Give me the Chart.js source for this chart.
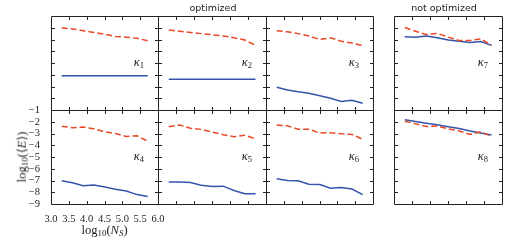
<!DOCTYPE html>
<html>
<head>
<meta charset="utf-8">
<script src="https://cdn.jsdelivr.net/npm/chart.js@4.4.1/dist/chart.umd.min.js"></script>
<style>
  html, body { margin: 0; padding: 0; background: #fff; }
  #fig { position: relative; width: 512px; height: 241px; overflow: hidden; font-family: "Liberation Serif", "DejaVu Serif", serif; color: #222; }
  #fig canvas { position: absolute; }
  .txt { position: absolute; white-space: nowrap; line-height: 1; }
  .head { font-family: "DejaVu Sans", sans-serif; font-size: 9.5px; transform: translateX(-50%); }
  .kap { font-size: 12.5px; font-style: italic; }
  .sb { position: relative; top: 2px; font-size: 8.5px; font-style: normal; }
  .ax { font-size: 12.5px; }
  .ax i { font-style: italic; }
</style>
</head>
<body>
<div id="fig"></div>
<script>
// x: log10(N_S)
const logNs = [3.30, 3.60, 3.90, 4.20, 4.51, 4.81, 5.11, 5.41, 5.71];

// log10(<E>), dashed (red) and solid (blue) curve for each kappa
const kappa1Dashed = [-2.0, -2.1, -2.25, -2.4, -2.55, -2.75, -2.8, -2.9, -3.1];
const kappa1Solid  = [-6.08, -6.08, -6.08, -6.08, -6.08, -6.08, -6.08, -6.08, -6.08];
const kappa2Dashed = [-2.2, -2.3, -2.4, -2.5, -2.6, -2.7, -2.85, -3.05, -3.5];
const kappa2Solid  = [-6.38, -6.38, -6.38, -6.38, -6.38, -6.38, -6.38, -6.38, -6.38];
const kappa3Dashed = [-2.25, -2.35, -2.5, -2.7, -3.0, -2.85, -3.15, -3.3, -3.52];
const kappa3Solid  = [-7.07, -7.3, -7.45, -7.57, -7.78, -8.0, -8.28, -8.18, -8.43];
const kappa4Dashed = [-2.38, -2.5, -2.45, -2.6, -2.85, -3.0, -3.25, -3.2, -3.65];
const kappa4Solid  = [-7.02, -7.2, -7.45, -7.38, -7.55, -7.75, -7.9, -8.2, -8.37];
const kappa5Dashed = [-2.42, -2.27, -2.55, -2.65, -2.88, -3.1, -3.28, -3.15, -3.45];
const kappa5Solid  = [-7.12, -7.12, -7.18, -7.4, -7.52, -7.48, -7.85, -8.12, -8.13];
const kappa6Dashed = [-2.27, -2.35, -2.63, -2.63, -2.97, -2.93, -3.02, -3.08, -3.5];
const kappa6Solid  = [-6.86, -7.0, -7.02, -7.32, -7.34, -7.65, -7.6, -7.73, -8.2];
const kappa7Dashed = [-1.98, -2.3, -2.58, -2.48, -2.8, -3.08, -3.08, -2.95, -3.5];
const kappa7Solid  = [-2.76, -2.8, -2.7, -2.85, -3.05, -3.15, -3.25, -3.18, -3.5];
const kappa8Dashed = [-1.95, -2.18, -2.4, -2.37, -2.6, -2.78, -3.08, -2.85, -3.25];
const kappa8Solid  = [-1.82, -1.97, -2.12, -2.25, -2.42, -2.58, -2.78, -2.95, -3.12];

const xTicks = [3.0, 3.5, 4.0, 4.5, 5.0, 5.5, 6.0];
const yTicks = [-9, -8, -7, -6, -5, -4, -3, -2, -1];

const panelNames = ['1', '2', '3', '7', '4', '5', '6', '8'];
const panelDashed = [kappa1Dashed, kappa2Dashed, kappa3Dashed, kappa7Dashed, kappa4Dashed, kappa5Dashed, kappa6Dashed, kappa8Dashed];
const panelSolid = [kappa1Solid, kappa2Solid, kappa3Solid, kappa7Solid, kappa4Solid, kappa5Solid, kappa6Solid, kappa8Solid];

// panel boxes in page pixels
const colX = [[51, 158], [158, 266], [266, 373], [394, 502]];
const rowY = [[16, 110], [110, 204]];

const RED = '#ea4826';
const BLUE = '#3653aa';

const fig = document.getElementById('fig');

const framePlugin = {
  id: 'frame',
  afterDatasetsDraw(chart) {
    const { ctx, chartArea: a, scales: { x, y } } = chart;
    const p = v => Math.round(v) + 0.5;
    const L = p(a.left), R = p(a.right), T = p(a.top), B = p(a.bottom);
    ctx.save();
    ctx.strokeStyle = '#222';
    ctx.lineWidth = 1;
    ctx.beginPath();
    ctx.rect(L, T, R - L, B - T);
    x.ticks.forEach(t => {
      if (t.value <= x.min || t.value >= x.max) return;
      const xx = p(x.getPixelForValue(t.value));
      ctx.moveTo(xx, T); ctx.lineTo(xx, T + 3.5);
      ctx.moveTo(xx, B); ctx.lineTo(xx, B - 3.5);
    });
    y.ticks.forEach(t => {
      if (t.value <= y.min || t.value >= y.max) return;
      const yy = p(y.getPixelForValue(t.value));
      ctx.moveTo(L, yy); ctx.lineTo(L + 3.5, yy);
      ctx.moveTo(R, yy); ctx.lineTo(R - 3.5, yy);
    });
    ctx.stroke();
    ctx.restore();
  }
};

function addText(html, cls, style) {
  const d = document.createElement('div');
  d.className = 'txt ' + cls;
  d.innerHTML = html;
  Object.assign(d.style, style);
  fig.appendChild(d);
}

panelNames.forEach((name, i) => {
  const col = i % 4, row = Math.floor(i / 4);
  const [l, r] = colX[col];
  const [t, b] = rowY[row];
  const w = r - l, h = b - t;
  const labelled = (col === 0 && row === 1);

  const canvas = document.createElement('canvas');
  let pad, cw, ch, cl, ct;
  if (labelled) {
    cl = 0; ct = t - 6; cw = r + 10; ch = 241 - ct;
    pad = { left: 0, top: 6, right: 10, bottom: 0 };
  } else {
    cl = l - 3; ct = t - 3; cw = w + 6; ch = h + 6;
    pad = 3;
  }
  canvas.width = cw; canvas.height = ch;
  canvas.style.left = cl + 'px';
  canvas.style.top = ct + 'px';
  canvas.style.width = cw + 'px';
  canvas.style.height = ch + 'px';
  fig.appendChild(canvas);

  const tickFont = { family: '"Liberation Serif", serif', size: 10.5 };

  const xScale = {
    type: 'linear', min: 3, max: 6,
    display: labelled,
    afterBuildTicks: s => { s.ticks = xTicks.map(v => ({ value: v })); },
    grid: { display: false },
    border: { display: false },
    ticks: {
      color: '#222', font: tickFont, padding: 1,
      autoSkip: false, maxRotation: 0,
      callback: v => v.toFixed(1)
    }
  };
  const yScale = {
    type: 'linear', min: -9, max: -1,
    display: labelled,
    afterBuildTicks: s => { s.ticks = yTicks.map(v => ({ value: v })); },
    grid: { display: false },
    border: { display: false },
    ticks: {
      color: '#222', font: tickFont, padding: 3,
      autoSkip: false,
      callback: v => (v < 0 ? '\u2212' : '') + Math.abs(v)
    }
  };
  if (labelled) {
    xScale.afterFit = s => { s.height = ch - 6 - h; s.paddingLeft = 0; s.paddingRight = 0; };
    yScale.afterFit = s => { s.width = l; s.paddingTop = 0; s.paddingBottom = 0; };
  }

  new Chart(canvas.getContext('2d'), {
    type: 'line',
    data: {
      labels: logNs,
      datasets: [
        {
          data: logNs.map((v, k) => ({ x: v, y: panelDashed[i][k] })),
          borderColor: RED, borderWidth: 1.5, borderDash: [6, 3],
          pointRadius: 0, fill: false, tension: 0
        },
        {
          data: logNs.map((v, k) => ({ x: v, y: panelSolid[i][k] })),
          borderColor: BLUE, borderWidth: 1.5,
          pointRadius: 0, fill: false, tension: 0
        }
      ]
    },
    options: {
      responsive: false,
      animation: false,
      devicePixelRatio: 1,
      layout: { padding: pad },
      plugins: { legend: { display: false }, tooltip: { enabled: false } },
      scales: { x: xScale, y: yScale }
    },
    plugins: [framePlugin]
  });

  addText('\u03ba<span class="sb">' + name + '</span>', 'kap', {
    right: (512 - (r - 14)) + 'px',
    top: (t + 39.5) + 'px'
  });
});

addText('optimized', 'head', { left: '213px', top: '3px' });
addText('not optimized', 'head', { left: '444px', top: '3px' });

addText('log<span class="sb" style="font-size:9px">10</span>(\u27e8<i>E</i>\u27e9)', 'ax', {
  left: '22px', top: '157px', transform: 'translate(-50%, -50%) rotate(-90deg)'
});
addText('log<span class="sb" style="font-size:9px">10</span>(<i>N</i><span class="sb" style="font-size:9px;font-style:italic">S</span>)', 'ax', {
  left: '104.5px', top: '230px', transform: 'translate(-50%, -50%)'
});
</script>
</body>
</html>
